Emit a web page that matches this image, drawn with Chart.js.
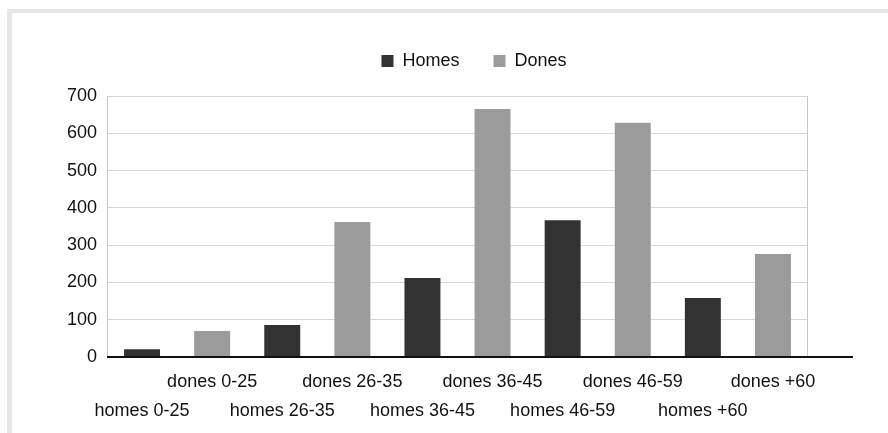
<!DOCTYPE html>
<html>
<head>
<meta charset="utf-8">
<script src="https://cdn.jsdelivr.net/npm/chart.js@4/dist/chart.umd.min.js"></script>
<style>
  body { margin: 0; background: #fff; }
  #frame {
    position: absolute; left: 7px; top: 9px; right: 0; bottom: 0;
    border-top: 4px solid #e6e6e6; border-left: 5px solid #e6e6e6;
  }
  #ages { position: absolute; left: 0; top: 0; }
</style>
</head>
<body>
<div id="frame"></div>
<canvas id="ages" width="888" height="433"></canvas>
<script>
// age groups, one homes bar and one dones bar for each
const ageGroups = ['0-25', '26-35', '36-45', '46-59', '+60'];
const homes = [21, 86, 212, 367, 158];
const dones = [70, 362, 665, 628, 276];
const yTicks = [0, 100, 200, 300, 400, 500, 600, 700];

// labels alternate homes / dones, homes sits on the second row
let labels = [];
let homesData = [];
let donesData = [];
ageGroups.forEach((g, i) => {
    labels.push(['', 'homes ' + g]);
    homesData.push(homes[i]);
    donesData.push(null);
    labels.push(['dones ' + g]);
    homesData.push(null);
    donesData.push(dones[i]);
});

// more room under the legend
const legendGap = {
    id: 'legendGap',
    beforeInit(chart) {
        const fit = chart.legend.fit;
        chart.legend.fit = function () {
            fit.bind(chart.legend)();
            this.height += 16;
        };
    }
};

const frameLines = {
    id: 'frameLines',
    afterDraw(chart) {
        const ctx = chart.ctx;
        const a = chart.chartArea;
        const y0 = chart.scales.y.getPixelForValue(0);
        ctx.save();
        ctx.strokeStyle = '#c8c8c8';
        ctx.lineWidth = 1;
        ctx.beginPath();
        ctx.moveTo(a.left + 0.5, a.top);
        ctx.lineTo(a.left + 0.5, y0);
        ctx.moveTo(a.right - 0.5, a.top);
        ctx.lineTo(a.right - 0.5, y0);
        ctx.stroke();
        ctx.strokeStyle = '#111';
        ctx.lineWidth = 2;
        ctx.beginPath();
        ctx.moveTo(a.left, y0);
        ctx.lineTo(a.right + 45, y0);
        ctx.stroke();
        ctx.restore();
    }
};

let ctx = document.getElementById('ages').getContext('2d');
let agesChart = new Chart(ctx, {
    type: 'bar',
    data: {
        labels: labels,
        datasets: [{
            label: 'Homes',
            data: homesData,
            backgroundColor: '#323232',
            borderWidth: 0
        }, {
            label: 'Dones',
            data: donesData,
            backgroundColor: '#9b9b9b',
            borderWidth: 0
        }]
    },
    options: {
        responsive: false,
        animation: false,
        barPercentage: 0.9,
        categoryPercentage: 0.57,
        layout: { padding: { left: 60, right: 0, top: 18, bottom: 4 } },
        plugins: {
            legend: {
                labels: {
                    boxWidth: 12,
                    boxHeight: 12,
                    padding: 34,
                    color: '#111',
                    font: { family: 'Liberation Sans', size: 18 }
                }
            },
            tooltip: { enabled: false }
        },
        scales: {
            x: {
                stacked: true,
                grid: { display: false },
                border: { display: false },
                ticks: {
                    autoSkip: false,
                    maxRotation: 0,
                    padding: 3,
                    color: '#111',
                    font: { family: 'Liberation Sans', size: 18, lineHeight: 1.61 }
                }
            },
            y: {
                stacked: true,
                min: 0,
                max: 700,
                afterBuildTicks: s => { s.ticks = yTicks.map(v => ({ value: v })); },
                afterFit: s => { s.width = 47; },
                grid: { color: '#d6d6d6', drawTicks: false },
                border: { display: false },
                ticks: {
                    padding: 10,
                    color: '#111',
                    font: { family: 'Liberation Sans', size: 18 }
                }
            },
            yRight: {
                position: 'right',
                grid: { display: false, drawTicks: false },
                border: { display: false },
                ticks: { display: false },
                afterFit: s => { s.width = 80; }
            }
        }
    },
    plugins: [legendGap, frameLines]
});
</script>
</body>
</html>
